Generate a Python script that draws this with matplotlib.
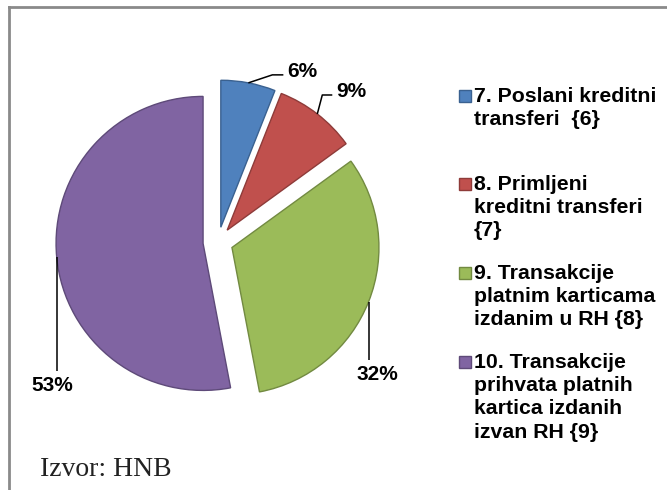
import math
import matplotlib
matplotlib.use("Agg")
import matplotlib.pyplot as plt
from matplotlib.patches import Rectangle
from matplotlib.lines import Line2D

# data
labels = ["7. Poslani kreditni\ntransferi  {6}",
          "8. Primljeni\nkreditni transferi\n{7}",
          "9. Transakcije\nplatnim karticama\nizdanim u RH {8}",
          "10. Transakcije\nprihvata platnih\nkartica izdanih\nizvan RH {9}"]
shares = [6, 9, 32, 53]
pct_labels = ["6%", "9%", "32%", "53%"]
colors = ["#4F81BD", "#C0504D", "#9BBB59", "#8064A2"]
edges = ["#3A6190", "#8E3B39", "#728A41", "#5E4A79"]
source = "Izvor: HNB"

W, H = 667, 490
fig = plt.figure(figsize=(W / 100, H / 100), dpi=100)
ax = fig.add_axes([0, 0, 1, 1])

cx, cy, R, EXPL = 218, 248, 147, 15
wedges, _ = ax.pie(shares, colors=colors, startangle=90, counterclock=False,
                   center=(cx, cy), radius=R, explode=[EXPL] * len(shares),
                   wedgeprops=dict(linewidth=1.0))
for w, ec in zip(wedges, edges):
    w.set_edgecolor(ec)
ax.set_xlim(0, W)
ax.set_ylim(0, H)
ax.set_aspect("equal")
ax.axis("off")

# percent labels with leader lines, anchored on the middle of each arc
lab_font = dict(fontsize=15, fontweight="bold", family="Liberation Sans")
for w, txt, i in zip(wedges, pct_labels, range(4)):
    th = math.radians((w.theta1 + w.theta2) / 2)
    ox, oy = w.center
    ax0, ay0 = ox + R * math.cos(th), oy + R * math.sin(th)
    if i == 0:
        pts = [(ax0, ay0), (ax0 + 24, ay0 + 8), (ax0 + 35, ay0 + 8)]
        ax.text(ax0 + 39, ay0 + 6, txt, ha="left", va="baseline", **lab_font)
    elif i == 1:
        pts = [(ax0, ay0), (ax0 + 5, ay0 + 19), (ax0 + 15, ay0 + 19)]
        ax.text(ax0 + 19, ay0 + 17, txt, ha="left", va="baseline", **lab_font)
    elif i == 2:
        pts = [(ax0, ay0), (ax0, ay0 - 58)]
        ax.text(ax0 + 9, ay0 - 63, txt, ha="center", va="top", **lab_font)
    else:
        pts = [(ax0, ay0), (ax0, ay0 - 114)]
        ax.text(ax0 - 4, ay0 - 119, txt, ha="center", va="top", **lab_font)
    xs, ys = zip(*pts)
    ax.plot(xs, ys, color="black", lw=1.1, solid_capstyle="butt")

# legend drawn by hand (uneven gaps as in the original)
leg_tops = [90, 178, 267, 356]
for lab, col, ec, top in zip(labels, colors, edges, leg_tops):
    ax.add_patch(Rectangle((459, H - top - 12), 12, 12, facecolor=col,
                           edgecolor=ec, lw=1))
    ax.text(474, H - top + 3, lab, ha="left", va="top", fontsize=15.3,
            fontweight="bold", family="Liberation Sans", linespacing=1.28)

ax.text(40, H - 476, source, ha="left", va="baseline", fontsize=20,
        family="Liberation Serif", color="#222222")

# frame (left and top edges visible)
fig.add_artist(Line2D([8.5 / W, 8.5 / W], [0, 1 - 7 / H], color="#8a8a8a",
                      lw=2, transform=fig.transFigure))
fig.add_artist(Line2D([8.5 / W, 1], [1 - 7 / H, 1 - 7 / H], color="#8a8a8a",
                      lw=2, transform=fig.transFigure))

fig.savefig("out.png", dpi=100)
